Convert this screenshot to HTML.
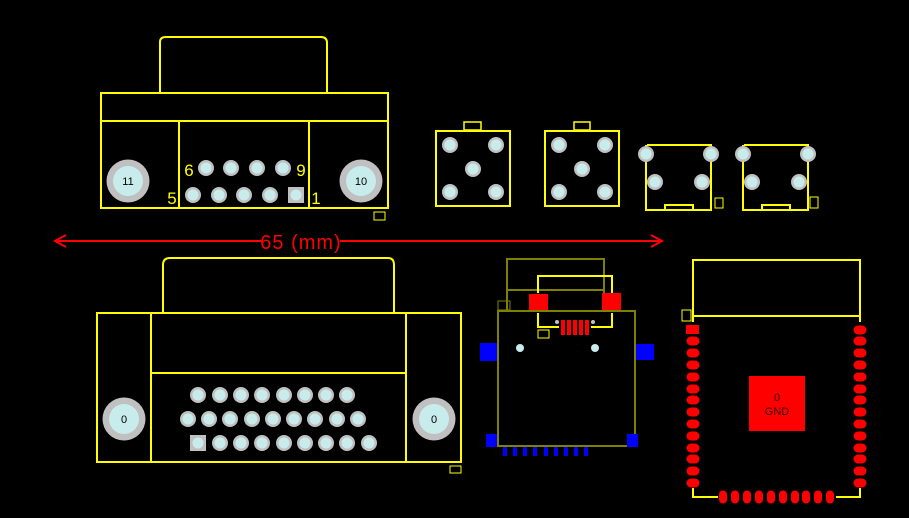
<!DOCTYPE html>
<html><head><style>html,body{margin:0;padding:0;background:#000;}svg{display:block}</style></head>
<body>
<svg width="909" height="518" viewBox="0 0 909 518" xmlns="http://www.w3.org/2000/svg">
<rect width="909" height="518" fill="#000"/>
<defs>
<g id="pin"><circle r="8" fill="#c0c0c0"/><circle r="5.5" fill="#c8ecec"/></g>
<g id="big"><circle r="21.5" fill="#c0c0c0"/><circle r="15" fill="#c8ecec"/></g>
<g id="pinsq"><rect x="-8" y="-8" width="16" height="16" fill="#c0c0c0"/><circle r="5.5" fill="#c8ecec"/></g>
<g id="ov"><rect x="-6.5" y="-4.5" width="13" height="9" rx="4.5" fill="#f00"/></g>
<g id="ovv"><rect x="-4" y="-6.5" width="8" height="13" rx="4" fill="#f00"/></g>
</defs>
<g fill="none" stroke="#ff0" stroke-width="2">
<path d="M160 92 V42 Q160 37 166 37 H321 Q327 37 327 43 V92"/>
<rect x="101" y="93" width="287" height="115"/>
<line x1="101" y1="121" x2="388" y2="121"/>
<line x1="179" y1="121" x2="179" y2="208"/>
<line x1="309" y1="121" x2="309" y2="208"/>
<rect x="374" y="212" width="11" height="8" stroke-width="1"/>
<rect x="436" y="131" width="74" height="75"/>
<rect x="464" y="122" width="17" height="8" stroke-width="1.5"/>
<rect x="545" y="131" width="74" height="75"/>
<rect x="574" y="122" width="16" height="8" stroke-width="1.5"/>
<path d="M647 145 H711 V210 H646 V145"/>
<path d="M665 210 V205 H693 V210"/>
<rect x="715" y="198" width="8" height="10" stroke-width="1"/>
<path d="M744 145 H808 V210 H743 V145"/>
<path d="M762 210 V205 H790 V210"/>
<rect x="810" y="197" width="8" height="11" stroke-width="1"/>
<path d="M163 312 V265 Q163 258 170 258 H388 Q394 258 394 265 V312"/>
<rect x="97" y="313" width="364" height="149"/>
<line x1="151" y1="313" x2="151" y2="462"/>
<line x1="406" y1="313" x2="406" y2="462"/>
<line x1="151" y1="373" x2="406" y2="373"/>
<rect x="450" y="466" width="11" height="7" stroke-width="1"/>
<rect x="693" y="260" width="167" height="56"/>
<path d="M693 316 V322 M860 316 V322"/>
<path d="M693 488 V497 H718 M836 497 H860 V488"/>
<rect x="682" y="310" width="9" height="11" stroke-width="1"/>
</g>
<g fill="none" stroke="#808000" stroke-width="2">
<rect x="498" y="311" width="137" height="135"/>
<path d="M507 311 V259 H604 V311"/>
<line x1="507" y1="290" x2="604" y2="290"/>
<rect x="498" y="301" width="12" height="9" stroke-width="1"/>
</g>
<g fill="none" stroke="#ff0" stroke-width="2">
<path d="M538 293 V276 H612 V293 M612 313 V327 H591 M559 327 H538 V313"/>
<rect x="538" y="330" width="11" height="8" stroke-width="1"/>
</g>
<rect x="529" y="294" width="19" height="16" fill="#f00"/>
<rect x="602" y="293" width="19" height="17" fill="#f00"/>
<g fill="#f00"><rect x="561" y="320" width="4" height="15"/><rect x="567" y="320" width="4" height="15"/><rect x="573" y="320" width="4" height="15"/><rect x="579" y="320" width="4" height="15"/><rect x="585" y="320" width="4" height="15"/></g>
<circle cx="557" cy="322" r="2" fill="#c0c0c0"/><circle cx="593" cy="322" r="2" fill="#c0c0c0"/>
<circle cx="520" cy="348" r="4" fill="#c8ecec"/><circle cx="595" cy="348" r="4" fill="#c8ecec"/>
<g fill="#00f">
<rect x="480" y="343" width="17" height="18"/><rect x="636" y="344" width="18" height="16"/>
<rect x="486" y="434" width="11" height="13"/><rect x="627" y="434" width="11" height="13"/>
<rect x="503" y="447" width="4" height="9"/><rect x="513" y="447" width="4" height="9"/><rect x="523" y="447" width="4" height="9"/><rect x="533" y="447" width="4" height="9"/><rect x="544" y="447" width="4" height="9"/><rect x="554" y="447" width="4" height="9"/><rect x="564" y="447" width="4" height="9"/><rect x="574" y="447" width="4" height="9"/><rect x="584" y="447" width="4" height="9"/>
</g>
<use href="#big" x="128" y="181"/><use href="#big" x="361" y="181"/>
<use href="#pin" x="206" y="168"/><use href="#pin" x="231" y="168"/><use href="#pin" x="257" y="168"/><use href="#pin" x="283" y="168"/>
<use href="#pin" x="193" y="195"/><use href="#pin" x="219" y="195"/><use href="#pin" x="244" y="195"/><use href="#pin" x="270" y="195"/><use href="#pinsq" x="296" y="195"/>
<use href="#pin" x="450" y="145"/><use href="#pin" x="496" y="145"/><use href="#pin" x="473" y="169"/><use href="#pin" x="450" y="192"/><use href="#pin" x="496" y="192"/>
<use href="#pin" x="559" y="145"/><use href="#pin" x="605" y="145"/><use href="#pin" x="582" y="169"/><use href="#pin" x="559" y="192"/><use href="#pin" x="605" y="192"/>
<use href="#pin" x="646" y="154"/><use href="#pin" x="711" y="154"/><use href="#pin" x="655" y="182"/><use href="#pin" x="702" y="182"/>
<use href="#pin" x="743" y="154"/><use href="#pin" x="808" y="154"/><use href="#pin" x="752" y="182"/><use href="#pin" x="799" y="182"/>
<use href="#big" x="124" y="419"/><use href="#big" x="434" y="419"/>
<g>
<use href="#pin" x="198" y="395"/><use href="#pin" x="220" y="395"/><use href="#pin" x="241" y="395"/><use href="#pin" x="262" y="395"/><use href="#pin" x="284" y="395"/><use href="#pin" x="305" y="395"/><use href="#pin" x="326" y="395"/><use href="#pin" x="347" y="395"/>
<use href="#pin" x="188" y="419"/><use href="#pin" x="209" y="419"/><use href="#pin" x="230" y="419"/><use href="#pin" x="252" y="419"/><use href="#pin" x="273" y="419"/><use href="#pin" x="294" y="419"/><use href="#pin" x="315" y="419"/><use href="#pin" x="337" y="419"/><use href="#pin" x="358" y="419"/>
<use href="#pinsq" x="198" y="443"/><use href="#pin" x="220" y="443"/><use href="#pin" x="241" y="443"/><use href="#pin" x="262" y="443"/><use href="#pin" x="284" y="443"/><use href="#pin" x="305" y="443"/><use href="#pin" x="326" y="443"/><use href="#pin" x="347" y="443"/><use href="#pin" x="369" y="443"/>
</g>
<g font-family="Liberation Sans, sans-serif" font-size="11" fill="#000" text-anchor="middle">
<text x="128" y="185">11</text><text x="361" y="185">10</text>
<text x="124" y="423">0</text><text x="434" y="423">0</text>
</g>
<g font-family="Liberation Sans, sans-serif" font-size="17" fill="#ff0" text-anchor="middle">
<text x="189" y="176">6</text><text x="301" y="176">9</text><text x="172" y="204">5</text><text x="316" y="204">1</text>
</g>
<rect x="686" y="325" width="13" height="9" fill="#f00"/>
<g>
<use href="#ov" x="693" y="341"/><use href="#ov" x="693" y="353"/><use href="#ov" x="693" y="365"/><use href="#ov" x="693" y="377"/><use href="#ov" x="693" y="389"/><use href="#ov" x="693" y="400"/><use href="#ov" x="693" y="412"/><use href="#ov" x="693" y="424"/><use href="#ov" x="693" y="436"/><use href="#ov" x="693" y="448"/><use href="#ov" x="693" y="459"/><use href="#ov" x="693" y="471"/><use href="#ov" x="693" y="483"/>
<use href="#ov" x="860" y="330"/><use href="#ov" x="860" y="341"/><use href="#ov" x="860" y="353"/><use href="#ov" x="860" y="365"/><use href="#ov" x="860" y="377"/><use href="#ov" x="860" y="389"/><use href="#ov" x="860" y="400"/><use href="#ov" x="860" y="412"/><use href="#ov" x="860" y="424"/><use href="#ov" x="860" y="436"/><use href="#ov" x="860" y="448"/><use href="#ov" x="860" y="459"/><use href="#ov" x="860" y="471"/><use href="#ov" x="860" y="483"/>
<use href="#ovv" x="723" y="497"/><use href="#ovv" x="735" y="497"/><use href="#ovv" x="747" y="497"/><use href="#ovv" x="759" y="497"/><use href="#ovv" x="771" y="497"/><use href="#ovv" x="783" y="497"/><use href="#ovv" x="795" y="497"/><use href="#ovv" x="806" y="497"/><use href="#ovv" x="818" y="497"/><use href="#ovv" x="830" y="497"/>
</g>
<rect x="749" y="376" width="56" height="55" fill="#f00"/>
<g font-family="Liberation Sans, sans-serif" font-size="11" fill="#300" text-anchor="middle">
<text x="777" y="401">0</text><text x="777" y="415">GND</text>
</g>
<g stroke="#f00" stroke-width="2" fill="none">
<line x1="55" y1="241" x2="262" y2="241"/><line x1="340" y1="241" x2="662" y2="241"/>
<path d="M66 235 L55 241 L66 247"/><path d="M651 235 L662 241 L651 247"/>
</g>
<text x="301" y="249" font-family="Liberation Sans, sans-serif" font-size="20" fill="#f00" text-anchor="middle" letter-spacing="1">65 (mm)</text>
</svg>
</body></html>
